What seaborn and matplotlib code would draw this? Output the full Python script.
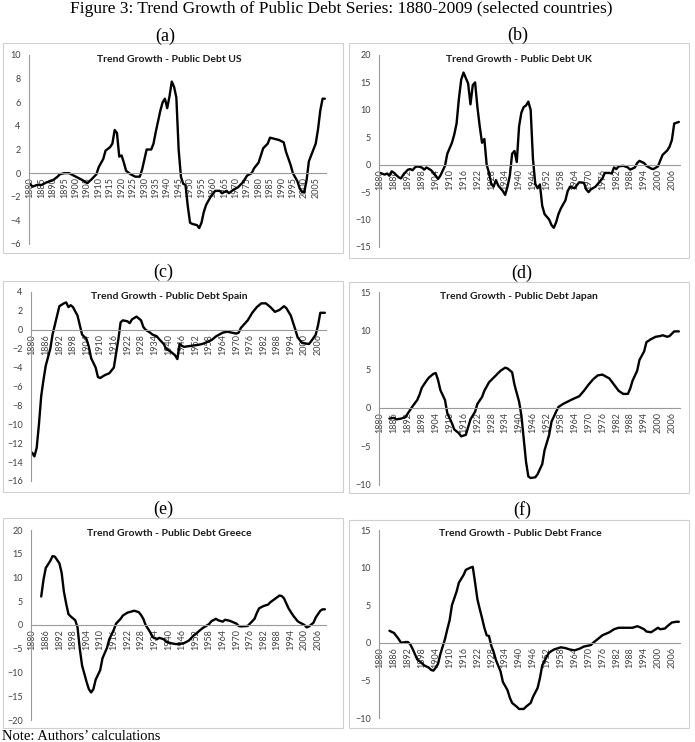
import numpy as np
import pandas as pd
import matplotlib
matplotlib.use('Agg')
import matplotlib.pyplot as plt
from matplotlib.patches import Rectangle
from matplotlib.ticker import MultipleLocator, FixedLocator
import seaborn as sns

# values (year, trend growth)
us_years = [1880, 1881, 1883, 1885, 1887, 1890, 1892, 1893, 1895, 1897, 1899, 1901, 1903, 1905,
            1907, 1909, 1910, 1912, 1913, 1915, 1916, 1917, 1918, 1919, 1920, 1921, 1922, 1924,
            1926, 1928, 1929, 1931, 1933, 1934, 1935, 1937, 1938, 1939, 1940, 1941, 1942, 1943,
            1944, 1945, 1946, 1947, 1948, 1949, 1950, 1951, 1953, 1954, 1955, 1956, 1957, 1959,
            1961, 1963, 1964, 1966, 1967, 1969, 1971, 1973, 1975, 1977, 1978, 1980, 1981, 1982,
            1984, 1985, 1987, 1989, 1991, 1992, 1994, 1995, 1997, 1998, 1999, 2000, 2001, 2002,
            2003, 2005, 2006, 2007, 2008, 2009]
us_vals = [-0.9, -1.15, -1.0, -1.0, -0.8, -0.6, -0.3, -0.1, 0.0, 0.0, -0.2, -0.4, -0.6, -0.85,
           -0.5, -0.1, 0.5, 1.2, 1.9, 2.2, 2.5, 3.65, 3.4, 1.4, 1.5, 0.9, 0.2, -0.1,
           -0.3, -0.3, 0.3, 2.0, 2.0, 2.5, 3.5, 5.3, 6.0, 6.3, 5.5, 6.5, 7.75, 7.3,
           6.4, 2.0, -0.3, -0.9, -1.0, -2.8, -4.2, -4.3, -4.4, -4.65, -4.2, -3.3, -2.7, -2.0,
           -1.5, -1.5, -1.7, -1.5, -1.7, -1.4, -1.2, -0.8, -0.2, 0.0, 0.4, 0.9, 1.5, 2.1,
           2.5, 3.0, 2.9, 2.8, 2.6, 1.8, 0.7, 0.0, -0.7, -1.3, -1.6, -1.6, -0.6, 1.0,
           1.5, 2.5, 3.7, 5.3, 6.3, 6.3]

uk_years = [1880, 1882, 1883, 1884, 1885, 1886, 1888, 1889, 1890, 1892, 1893, 1894, 1895, 1896,
            1898, 1899, 1900, 1902, 1904, 1905, 1906, 1908, 1909, 1911, 1912, 1913, 1914, 1915,
            1916, 1917, 1918, 1919, 1920, 1921, 1922, 1923, 1924, 1925, 1926, 1927, 1928, 1929,
            1930, 1931, 1933, 1934, 1935, 1936, 1937, 1938, 1939, 1940, 1941, 1942, 1943, 1944,
            1945, 1946, 1947, 1948, 1949, 1950, 1951, 1953, 1954, 1955, 1956, 1957, 1958, 1960,
            1961, 1962, 1964, 1965, 1966, 1968, 1969, 1970, 1971, 1973, 1974, 1976, 1977, 1979,
            1980, 1981, 1982, 1983, 1985, 1987, 1988, 1990, 1991, 1992, 1994, 1995, 1997, 1998,
            2000, 2001, 2002, 2004, 2005, 2006, 2007, 2009]
uk_vals = [-1.5, -1.8, -1.6, -2.0, -1.2, -1.5, -2.3, -2.5, -1.8, -0.9, -0.8, -1.0, -0.5, -0.3,
           -0.5, -0.9, -0.5, -1.0, -2.0, -2.6, -2.0, -0.2, 2.0, 4.0, 5.5, 7.5, 12.0, 15.5,
           16.8, 15.8, 14.8, 11.0, 14.5, 15.0, 10.5, 7.0, 4.0, 4.7, 0.0, -1.5, -3.5, -4.0,
           -2.8, -3.8, -4.8, -5.5, -4.0, -2.0, 2.0, 2.5, 0.5, 7.0, 9.5, 10.5, 10.8, 11.5,
           10.0, 1.0, -3.5, -4.3, -3.6, -7.5, -9.0, -10.0, -11.0, -11.5, -10.5, -9.0, -8.0, -6.5,
           -4.8, -4.0, -4.3, -3.7, -3.2, -3.3, -4.5, -5.0, -4.5, -4.0, -3.5, -2.5, -1.5, -1.5,
           -1.6, -0.5, -0.8, -0.3, -0.2, -0.5, -0.9, -0.5, 0.3, 0.7, 0.3, -0.2, -0.7, -0.8,
           -0.3, 0.8, 1.8, 2.6, 3.3, 4.5, 7.5, 7.8]

spain_years = [1880, 1881, 1882, 1883, 1884, 1885, 1886, 1888, 1889, 1890, 1891, 1892, 1894, 1895,
               1896, 1897, 1898, 1900, 1901, 1902, 1904, 1905, 1906, 1908, 1909, 1910, 1912, 1913,
               1914, 1916, 1917, 1918, 1919, 1920, 1922, 1923, 1924, 1926, 1928, 1929, 1930, 1932,
               1933, 1935, 1936, 1938, 1939, 1941, 1943, 1944, 1945, 1946, 1947, 1950, 1953, 1955,
               1957, 1959, 1961, 1964, 1966, 1968, 1970, 1971, 1972, 1975, 1977, 1979, 1981, 1983,
               1985, 1987, 1989, 1991, 1992, 1994, 1996, 1997, 1999, 2002, 2003, 2005, 2006, 2007,
               2009]
spain_vals = [-13.0, -13.4, -12.5, -10.0, -7.0, -5.3, -3.8, -2.0, -0.5, 0.5, 1.5, 2.5, 2.8, 2.9,
              2.4, 2.6, 2.4, 1.5, 0.5, -0.5, -1.0, -1.8, -3.0, -4.0, -5.0, -5.1, -4.8, -4.7,
              -4.6, -4.0, -2.5, -1.0, 0.8, 1.0, 0.9, 0.7, 1.1, 1.4, 1.0, 0.3, 0.0, -0.3,
              -0.5, -0.7, -1.0, -1.5, -2.0, -2.3, -2.7, -3.1, -1.5, -1.7, -1.8, -1.7, -1.6, -1.5,
              -1.3, -1.1, -0.7, -0.3, -0.2, -0.3, -0.4, -0.3, 0.2, 1.0, 1.8, 2.4, 2.8, 2.8,
              2.4, 1.9, 2.1, 2.5, 2.3, 1.5, 0.0, -0.8, -1.4, -1.5, -1.2, -0.5, 0.5, 1.8,
              1.8]

japan_years = [1884, 1886, 1887, 1889, 1891, 1892, 1894, 1896, 1897, 1898, 1900, 1901, 1903, 1904,
               1905, 1906, 1908, 1909, 1911, 1912, 1914, 1915, 1917, 1918, 1919, 1921, 1922, 1924,
               1925, 1927, 1930, 1932, 1934, 1935, 1937, 1938, 1940, 1941, 1942, 1943, 1944, 1945,
               1947, 1948, 1950, 1951, 1953, 1954, 1956, 1957, 1959, 1961, 1963, 1966, 1968, 1970,
               1972, 1974, 1976, 1979, 1981, 1983, 1985, 1987, 1988, 1989, 1991, 1992, 1994, 1995,
               1997, 1999, 2001, 2002, 2004, 2005, 2007, 2009]
japan_vals = [-1.4, -1.3, -1.5, -1.4, -1.2, -0.7, 0.2, 1.0, 1.7, 2.6, 3.5, 3.9, 4.4, 4.5,
              3.6, 2.3, 1.0, -0.7, -2.0, -2.8, -3.3, -3.7, -3.5, -2.5, -1.5, -0.5, 0.5, 1.4,
              2.2, 3.3, 4.2, 4.8, 5.2, 5.1, 4.6, 3.0, 0.8, -1.0, -4.0, -7.0, -8.9, -9.1,
              -9.0, -8.6, -7.3, -5.5, -3.5, -1.8, -0.5, 0.1, 0.5, 0.8, 1.1, 1.5, 2.2, 3.0,
              3.7, 4.2, 4.3, 3.8, 3.0, 2.2, 1.8, 1.8, 2.5, 3.5, 4.8, 6.2, 7.3, 8.5,
              8.9, 9.2, 9.3, 9.4, 9.2, 9.3, 9.9, 9.9]

greece_years = [1884, 1885, 1886, 1888, 1889, 1890, 1892, 1893, 1894, 1895, 1896, 1897, 1899, 1900,
                1901, 1902, 1904, 1905, 1906, 1907, 1908, 1910, 1911, 1913, 1914, 1916, 1917, 1919,
                1920, 1922, 1925, 1927, 1928, 1929, 1930, 1932, 1933, 1935, 1936, 1938, 1939, 1941,
                1943, 1945, 1947, 1949, 1951, 1953, 1955, 1958, 1959, 1961, 1962, 1964, 1965, 1967,
                1970, 1971, 1972, 1975, 1976, 1978, 1979, 1980, 1982, 1984, 1985, 1987, 1989, 1990,
                1991, 1993, 1995, 1997, 1998, 2000, 2001, 2002, 2004, 2005, 2007, 2008, 2009]
greece_vals = [6.0, 9.5, 12.0, 13.5, 14.5, 14.4, 13.0, 11.0, 7.0, 4.5, 2.3, 1.8, 1.0, -0.5,
               -5.0, -8.5, -12.0, -13.5, -14.2, -13.5, -11.5, -9.5, -7.0, -4.8, -3.0, -1.0, 0.3, 1.3,
               2.0, 2.6, 3.0, 2.7, 2.1, 1.3, 0.0, -1.5, -2.5, -3.0, -2.7, -3.0, -3.5, -3.8,
               -4.0, -4.0, -3.8, -3.3, -2.3, -1.5, -0.7, 0.2, 0.8, 1.3, 1.0, 0.7, 1.1, 0.9,
               0.3, -0.2, -0.3, -0.2, 0.3, 1.3, 2.5, 3.5, 4.0, 4.3, 4.8, 5.5, 6.2, 6.1,
               5.6, 3.5, 2.0, 0.8, 0.5, 0.0, -0.5, -0.3, 0.5, 1.6, 3.0, 3.3, 3.3]

france_years = [1884, 1886, 1887, 1888, 1889, 1891, 1892, 1893, 1894, 1895, 1896, 1898, 1899, 1901,
                1902, 1903, 1904, 1905, 1906, 1908, 1909, 1910, 1911, 1913, 1914, 1916, 1917, 1919,
                1920, 1921, 1922, 1923, 1924, 1925, 1926, 1927, 1928, 1929, 1930, 1932, 1933, 1935,
                1936, 1937, 1939, 1940, 1942, 1943, 1945, 1946, 1948, 1949, 1950, 1952, 1953, 1955,
                1958, 1960, 1962, 1964, 1966, 1968, 1971, 1972, 1974, 1976, 1979, 1981, 1983, 1986,
                1989, 1991, 1992, 1994, 1995, 1997, 1998, 2000, 2001, 2003, 2004, 2006, 2008, 2009]
france_vals = [1.6, 1.3, 0.9, 0.5, 0.0, 0.1, 0.1, -0.2, -0.8, -1.5, -2.2, -2.7, -3.0, -3.3,
               -3.6, -3.7, -3.3, -2.8, -1.5, 0.5, 1.8, 3.0, 5.0, 6.8, 8.0, 9.0, 9.7, 10.0,
               10.1, 8.0, 5.8, 4.5, 3.3, 2.0, 1.0, 0.9, -0.4, -1.2, -2.3, -3.8, -5.2, -6.3,
               -7.3, -8.0, -8.5, -8.8, -8.8, -8.5, -8.0, -7.2, -6.0, -4.7, -3.0, -1.8, -1.3, -0.9,
               -0.6, -0.7, -0.9, -1.0, -0.8, -0.5, -0.3, 0.0, 0.5, 1.0, 1.4, 1.8, 2.0, 2.0,
               2.0, 2.2, 2.1, 1.8, 1.5, 1.4, 1.6, 2.0, 1.8, 1.9, 2.2, 2.7, 2.8, 2.8]

countries = ['US', 'UK', 'Spain', 'Japan', 'Greece', 'France']
letters = ['(a)', '(b)', '(c)', '(d)', '(e)', '(f)']

sns.set_theme(style='white')
plt.rcParams['font.family'] = ['Lato', 'DejaVu Sans']

W, H = 695, 742
fig = plt.figure(figsize=(W / 100, H / 100), dpi=100)
fig.patch.set_facecolor('white')


def fr(l, t, r, b):
    return [l / W, 1 - b / H, (r - l) / W, (b - t) / H]


series = [(us_years, us_vals), (uk_years, uk_vals), (spain_years, spain_vals),
          (japan_years, japan_vals), (greece_years, greece_vals), (france_years, france_vals)]
ylims = [(-6, 10), (-15, 20), (-16, 4), (-10, 15), (-20, 20), (-10, 15)]
ysteps = [2, 5, 2, 5, 5, 5]
xsteps = [5, 6, 6, 6, 6, 6]
# pixel boxes: plot area, outer frame, panel letter position, title centre x
boxes = [(29, 55, 326, 244), (379, 55, 680, 247), (31, 292, 326, 481),
         (379, 292, 680, 485), (31, 530, 326, 720), (379, 530, 680, 718)]
frames = [(3, 43, 343, 253), (349, 43, 689, 258), (3, 281, 343, 492),
          (349, 282, 689, 493), (3, 518, 343, 728), (349, 520, 689, 728)]
letter_pos = [(165, 36), (518, 35.5), (163, 272), (522, 273), (163, 509), (522, 510)]
title_x = [169, 519, 169, 519, 169, 520]

axis_grey = '#9a9a9a'
text_grey = '#404040'

for i, name in enumerate(countries):
    yrs, vals = series[i]
    ax = fig.add_axes(fr(*boxes[i]))
    df = pd.DataFrame({'year': yrs, 'value': vals})
    sns.lineplot(data=df, x='year', y='value', ax=ax, color='black', lw=1.7,
                 solid_joinstyle='round', solid_capstyle='round')
    ax.set_xlim(1879.5, 2009.5)
    ax.set_ylim(*ylims[i])
    ax.set_xlabel('')
    ax.set_ylabel('')
    ax.set_facecolor('white')

    for s in ['top', 'right']:
        ax.spines[s].set_visible(False)
    ax.spines['bottom'].set_position(('data', 0))
    ax.spines['bottom'].set_color(axis_grey)
    ax.spines['left'].set_color(axis_grey)
    ax.spines['bottom'].set_linewidth(0.8)
    ax.spines['left'].set_linewidth(0.8)

    ax.xaxis.set_major_locator(FixedLocator(list(range(1880, 2010, xsteps[i]))))
    ax.xaxis.set_minor_locator(FixedLocator(list(np.arange(1879.5, 2010, 1.0))))
    ax.tick_params(axis='x', which='major', length=0, pad=3, labelsize=6.5,
                   labelcolor=text_grey, labelrotation=90)
    ax.tick_params(axis='x', which='minor', direction='inout', length=3,
                   width=0.5, color=axis_grey)
    ax.yaxis.set_major_locator(MultipleLocator(ysteps[i]))
    ax.tick_params(axis='y', which='major', direction='out', length=3, width=0.6,
                   color=axis_grey, labelsize=6.5, labelcolor=text_grey, pad=3)

    fig.text(title_x[i] / W, 1 - (boxes[i][1] + 4) / H, 'Trend Growth - Public Debt ' + name,
             ha='center', va='center', fontsize=7.5, fontweight='bold', color='#1a1a1a')

    l, t, r, b = frames[i]
    fig.add_artist(Rectangle((l / W, 1 - b / H), (r - l) / W, (b - t) / H,
                             transform=fig.transFigure, fill=False,
                             ec='#d0d0d0', lw=0.8))
    lx, ly = letter_pos[i]
    fig.text(lx / W, 1 - ly / H, letters[i], ha='center', va='center',
             fontsize=13, family='Liberation Serif', color='black')

fig.text(341 / W, 1 - 13 / H,
         'Figure 3: Trend Growth of Public Debt Series: 1880-2009 (selected countries)',
         ha='center', va='baseline', fontsize=12.5, family='Liberation Serif', color='black')
fig.text(2 / W, 1 - 740 / H, 'Note: Authors\u2019 calculations', ha='left', va='baseline',
         fontsize=10.5, family='Liberation Serif', color='black')

fig.savefig('out.png', dpi=100)
